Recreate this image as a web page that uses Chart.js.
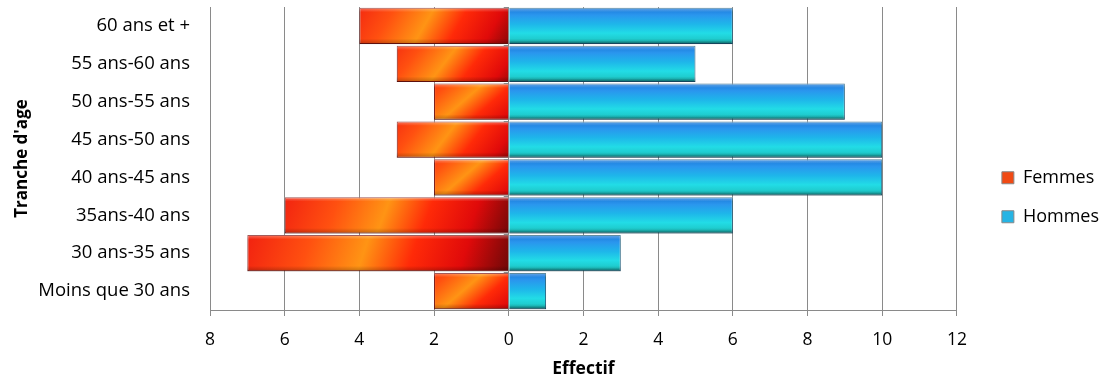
<!DOCTYPE html>
<html>
<head>
<meta charset="utf-8">
<script src="https://cdn.jsdelivr.net/npm/chart.js@4.4.1/dist/chart.umd.min.js"></script>
<style>
  html, body { margin: 0; padding: 0; background: #fff; }
  #wrap { width: 1102px; height: 382px; position: relative; }
</style>
</head>
<body>
<div id="wrap"><canvas id="pyramide"></canvas></div>
<script>
// tranches d'age, du haut vers le bas
const tranches = ['60 ans et +', '55 ans-60 ans', '50 ans-55 ans', '45 ans-50 ans',
                  '40 ans-45 ans', '35ans-40 ans', '30 ans-35 ans', 'Moins que 30 ans'];
const femmes = [4, 3, 2, 3, 2, 6, 7, 2];
const hommes = [6, 5, 9, 10, 10, 6, 3, 1];
const xMin = -8, xMax = 12, xStep = 2;

const police = '"Open Sans", Lato, sans-serif';

function barBox(ctx) {
  const chart = ctx.chart;
  const sx = chart.scales.x, sy = chart.scales.y;
  const yc = sy.getPixelForValue(ctx.dataIndex);
  const h = (sy.height / tranches.length) * 0.96;
  return { x0: sx.getPixelForValue(0), x1: sx.getPixelForValue(ctx.raw), top: yc - h / 2, bot: yc + h / 2 };
}

function fondFemmes(ctx) {
  if (!ctx.chart.chartArea || ctx.raw === undefined) return '#f04a14';
  const b = barBox(ctx);
  const g = ctx.chart.ctx.createLinearGradient(b.x1, b.top - 25, b.x0, b.bot + 25);
  g.addColorStop(0, '#f01c10');
  g.addColorStop(0.25, '#ff5010');
  g.addColorStop(0.45, '#ff9414');
  g.addColorStop(0.62, '#ff2a08');
  g.addColorStop(0.8, '#e00a0a');
  g.addColorStop(1, '#5a0808');
  return g;
}

function fondHommes(ctx) {
  if (!ctx.chart.chartArea || ctx.raw === undefined) return '#26b4e4';
  const b = barBox(ctx);
  const g = ctx.chart.ctx.createLinearGradient(0, b.top, 0, b.bot);
  g.addColorStop(0, '#1c78d8');
  g.addColorStop(0.2, '#2a96ee');
  g.addColorStop(0.45, '#1eb6ea');
  g.addColorStop(0.7, '#22dce6');
  g.addColorStop(0.9, '#1ec8c8');
  g.addColorStop(1, '#137a7a');
  return g;
}

// petit relief en haut et en bas de chaque barre
const relief = {
  id: 'relief',
  afterLayout(chart) {
    // legende un peu detachee du graphique, comme dans Excel
    const lg = chart.legend;
    lg.left += 24; lg.right += 24;
    lg.top += 4; lg.bottom += 4;
  },
  afterDatasetsDraw(chart) {
    const c = chart.ctx;
    chart.data.datasets.forEach((ds, i) => {
      chart.getDatasetMeta(i).data.forEach(bar => {
        const top = bar.y - bar.height / 2, h = bar.height;
        const l = Math.min(bar.x, bar.base), w = Math.abs(bar.x - bar.base);
        const g = c.createLinearGradient(0, top, 0, top + h);
        g.addColorStop(0, 'rgba(255,255,255,0.35)');
        g.addColorStop(0.12, 'rgba(255,255,255,0)');
        g.addColorStop(0.85, 'rgba(0,0,0,0)');
        g.addColorStop(1, 'rgba(0,0,0,0.25)');
        c.save();
        c.fillStyle = g;
        c.fillRect(l, top, w, h);
        c.restore();
      });
    });
    // petites graduations sur l'axe vertical (a zero)
    const sx = chart.scales.x, sy = chart.scales.y;
    const x0 = sx.getPixelForValue(0);
    const pas = sy.height / tranches.length;
    c.save();
    c.strokeStyle = '#8a8a8a';
    c.lineWidth = 1;
    for (let k = 0; k <= tranches.length; k++) {
      const y = Math.round(sy.top + k * pas) + 0.5;
      c.beginPath();
      c.moveTo(x0 - 5, y);
      c.lineTo(x0, y);
      c.stroke();
    }
    c.restore();
  }
};

new Chart(document.getElementById('pyramide'), {
  type: 'bar',
  data: {
    labels: tranches,
    datasets: [
      { label: 'Femmes', data: femmes.map(v => -v), backgroundColor: fondFemmes,
        borderColor: '#7a1410', borderWidth: 1, barPercentage: 0.96, categoryPercentage: 1 },
      { label: 'Hommes', data: hommes, backgroundColor: fondHommes,
        borderColor: '#1a5a78', borderWidth: 1, barPercentage: 0.96, categoryPercentage: 1 }
    ]
  },
  options: {
    indexAxis: 'y',
    responsive: true,
    maintainAspectRatio: false,
    animation: false,
    layout: { padding: { top: 7, right: 17, bottom: 2.5, left: 0 } },
    plugins: {
      legend: {
        position: 'right',
        labels: {
          boxWidth: 12, boxHeight: 12, padding: 21, color: '#000',
          font: { family: police, size: 18 },
          generateLabels: chart => Chart.defaults.plugins.legend.labels.generateLabels(chart).map((it, i) => {
            it.fillStyle = i === 0 ? '#f04a14' : '#26b4e4';
            it.strokeStyle = '#888';
            return it;
          })
        }
      },
      tooltip: { enabled: false }
    },
    scales: {
      x: {
        stacked: true,
        min: xMin, max: xMax,
        afterFit: s => { s.height = 69.5; },
        ticks: { stepSize: xStep, color: '#000', font: { family: police, size: 17.5 }, padding: 14,
                 callback: v => Math.abs(v) },
        grid: { color: '#8a8a8a', lineWidth: 1, tickLength: 6, drawTicks: true },
        border: { color: '#8a8a8a' },
        title: { display: true, text: 'Effectif', color: '#000', font: { family: police, size: 17.5, weight: 'bold' }, padding: { top: 4, bottom: 0 } }
      },
      y: {
        stacked: true,
        afterFit: s => { s.paddingTop = 0; s.paddingBottom = 0; s.width = 210; },
        ticks: { color: '#000', font: { family: police, size: 18.5 }, padding: 12 },
        grid: { display: false, tickLength: 8 },
        border: { color: '#8a8a8a' },
        title: { display: true, text: "Tranche d'age", color: '#000', font: { family: police, size: 17, weight: 'bold' }, padding: { top: 12, bottom: 0 } }
      }
    }
  },
  plugins: [relief]
});
</script>
</body>
</html>
